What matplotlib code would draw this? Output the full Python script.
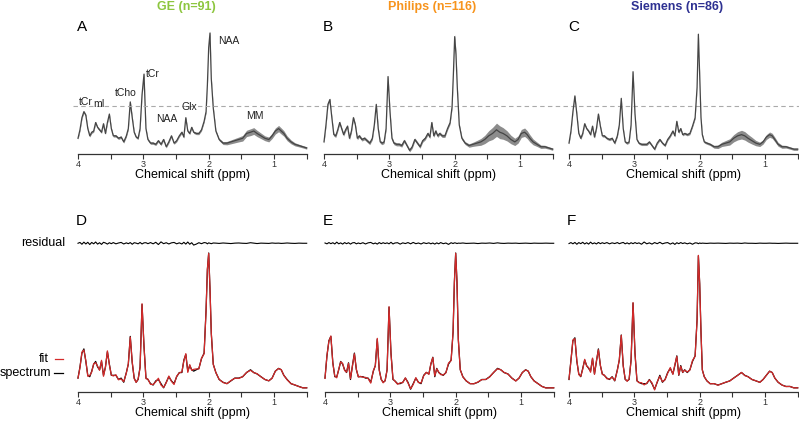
import numpy as np
import matplotlib
matplotlib.use('Agg')
import matplotlib.pyplot as plt
from matplotlib.transforms import blended_transform_factory

plt.rcParams['font.family'] = ['Liberation Sans', 'DejaVu Sans']

# chemical shift grid (ppm) shared by all spectra
ppm = [4.00, 3.97, 3.94, 3.91, 3.88, 3.85, 3.82, 3.79, 3.76, 3.73,
       3.70, 3.67, 3.64, 3.61, 3.58, 3.55, 3.52, 3.49, 3.46, 3.42,
       3.38, 3.34, 3.30, 3.26, 3.23, 3.20, 3.17, 3.14, 3.11, 3.08,
       3.05, 3.02, 2.99, 2.96, 2.93, 2.89, 2.85, 2.81, 2.77, 2.73,
       2.69, 2.65, 2.61, 2.57, 2.53, 2.49, 2.45, 2.41, 2.38, 2.35,
       2.32, 2.29, 2.26, 2.23, 2.19, 2.15, 2.11, 2.07, 2.04, 2.02,
       2.00, 1.98, 1.96, 1.93, 1.89, 1.84, 1.78, 1.72, 1.66, 1.60,
       1.54, 1.48, 1.42, 1.36, 1.31, 1.26, 1.20, 1.14, 1.08, 1.03,
       0.98, 0.93, 0.89, 0.85, 0.80, 0.74, 0.68, 0.62, 0.56, 0.50]

# vendor mean spectra (NAA peak ~ 100)
mean_ge = [13, 20, 30, 35, 32, 21, 15, 18, 19, 26,
           22, 20, 18, 25, 17, 26, 33, 21, 15, 15,
           13, 14, 10, 15, 21, 43, 30, 18, 14, 13,
           21, 49, 66, 21, 12, 9, 9, 8, 11, 8,
           12, 6, 10, 15, 9, 11, 15, 18, 14, 30,
           19, 17, 22, 18, 17, 17, 20, 27, 35, 57,
           88, 100, 62, 38, 19, 12, 9, 9, 10, 11,
           12, 13, 17, 18, 19, 17, 15, 13, 12, 15,
           19, 21, 19, 17, 13, 10, 8, 7, 6, 5]
mean_philips = [10, 24, 41, 45, 30, 16, 15, 20, 26, 21,
                16, 20, 23, 13, 19, 30, 24, 13, 15, 12,
                13, 11, 9, 13, 24, 41, 21, 10, 9, 10,
                21, 64, 35, 13, 9, 8, 8, 7, 11, 7,
                3, 6, 12, 9, 6, 11, 13, 17, 14, 26,
                15, 19, 15, 17, 15, 15, 21, 26, 39, 66,
                97, 82, 55, 24, 13, 9, 7, 8, 9, 10,
                12, 15, 17, 20, 18, 17, 15, 12, 10, 12,
                17, 18, 16, 13, 10, 8, 6, 6, 5, 4]
mean_siemens = [9, 19, 35, 48, 33, 17, 13, 17, 25, 21,
                19, 16, 23, 14, 21, 33, 23, 15, 15, 13,
                12, 13, 9, 15, 24, 46, 21, 10, 9, 10,
                24, 68, 33, 12, 9, 8, 8, 8, 10, 7,
                4, 9, 12, 9, 7, 12, 15, 19, 15, 27,
                18, 21, 16, 17, 16, 17, 23, 30, 55, 99,
                65, 30, 16, 10, 9, 8, 6, 6, 8, 9,
                10, 13, 15, 16, 15, 13, 11, 9, 8, 10,
                14, 16, 15, 12, 8, 6, 6, 5, 4, 4]

# standard deviation bands
sd_ge = [1.0] * 10 + [1.0] * 10 + \
        [1.0, 1.0, 1.0, 1.0, 1.0, 1.4, 1.2, 1.0, 1.0, 1.0,
         1.0, 1.4, 1.5, 1.0, 1.0, 1.0, 1.0, 1.0, 1.0, 1.0] + [1.0] * 10 + \
        [1.0, 1.0, 1.0, 1.0, 1.0, 1.0, 1.0, 1.0, 1.2, 1.5,
         1.6, 1.6, 1.5, 1.2, 1.0, 1.0, 1.2, 1.4, 1.6, 1.8,
         2.0, 2.3, 2.6, 2.8, 2.8, 2.6, 2.3, 2.0, 2.0, 2.2,
         2.5, 2.6, 2.5, 2.3, 2.0, 1.6, 1.3, 1.1, 1.0, 1.0]
sd_philips = [1.3] * 60 + \
             [2.0, 1.8, 1.6, 1.3, 1.2, 1.2, 1.4, 1.7, 2.2, 2.8,
              3.4, 4.2, 5.0, 5.5, 5.3, 4.8, 4.2, 3.5, 3.0, 3.0,
              3.3, 3.5, 3.3, 3.0, 2.4, 1.8, 1.4, 1.2, 1.0, 1.0]
sd_siemens = [1.0] * 60 + \
             [1.5, 1.2, 1.0, 1.0, 1.0, 1.0, 1.2, 1.5, 1.8, 2.2,
              2.6, 3.0, 3.4, 3.6, 3.5, 3.2, 2.8, 2.2, 1.8, 1.8,
              2.0, 2.2, 2.1, 1.9, 1.6, 1.3, 1.1, 1.0, 1.0, 1.0]

# single-subject spectra for the fit examples
spec_ge = [10, 18, 28, 31, 22, 12, 11, 15, 20, 22,
           18, 16, 22, 12, 18, 29, 20, 12, 12, 12,
           9, 10, 7, 14, 20, 40, 21, 10, 7, 9,
           18, 63, 33, 10, 9, 6, 5, 8, 9, 6,
           3, 7, 11, 8, 6, 11, 14, 14, 23, 27,
           15, 19, 16, 15, 16, 17, 24, 28, 59, 88,
           100, 74, 42, 20, 14, 9, 7, 6, 8, 10,
           10, 11, 14, 16, 14, 13, 11, 9, 8, 10,
           15, 17, 16, 12, 9, 6, 5, 4, 3, 3]
spec_philips = [10, 26, 37, 40, 21, 11, 11, 16, 22, 20,
                16, 14, 21, 9, 19, 28, 16, 11, 11, 11,
                10, 10, 7, 15, 19, 38, 16, 9, 7, 8,
                16, 61, 28, 9, 8, 6, 6, 7, 10, 7,
                2, 6, 10, 7, 6, 12, 14, 13, 20, 25,
                11, 17, 14, 13, 12, 14, 20, 23, 43, 79,
                100, 79, 38, 16, 11, 8, 6, 6, 7, 9,
                9, 11, 14, 17, 16, 14, 13, 10, 8, 10,
                14, 16, 15, 11, 8, 6, 4, 3, 3, 3]
spec_siemens = [9, 23, 37, 39, 22, 13, 11, 17, 23, 19,
                17, 15, 24, 13, 22, 31, 19, 13, 12, 10,
                9, 11, 8, 16, 23, 41, 19, 9, 8, 9,
                23, 64, 28, 8, 7, 6, 6, 6, 9, 6,
                2, 7, 12, 7, 9, 14, 17, 13, 19, 26,
                12, 19, 14, 16, 14, 16, 22, 26, 52, 98,
                78, 43, 16, 11, 8, 6, 6, 5, 6, 7,
                8, 10, 12, 14, 12, 11, 9, 8, 7, 9,
                12, 15, 14, 10, 7, 5, 4, 4, 3, 3]

# residual = spectrum - fit
res_ge = [0.0, 0.6, -0.7, 0.8, -0.5, 0.7, -0.9, 0.6, -0.4, 0.9,
          -0.6, 0.4, -0.8, 0.7, 0.2, -0.6, 0.4, -0.3, 0.5, -0.4,
          0.2, 0.6, -0.5, 0.3, -0.3, 0.5, -0.7, 0.4, 0.1, -0.4,
          0.6, -0.5, 0.3, 0.4, -0.3, 0.5, -0.4, 0.7, -0.9, 1.0,
          -0.3, 0.4, -0.5, 0.3, 0.6, -0.4, 0.3, -0.5, 0.7, -0.6,
          0.9, -0.7, 0.4, -1.3, -0.6, 0.4, -0.3, 0.5, 0.3, -0.4,
          0.3, 0.0, -0.3, 0.2, 0.1, -0.1, 0.2, 0.0, -0.2, 0.1,
          0.2, 0.0, -0.1, 0.4, 0.1, -0.2, 0.1, 0.0, -0.1, 0.2,
          0.0, 0.1, -0.1, 0.0, 0.2, 0.0, -0.1, 0.1, 0.0, 0.0]
res_philips = [0.2, -0.4, 0.5, -0.3, 0.4, -0.5, 0.8, -0.4, 0.3, -0.6,
               0.5, -0.3, 0.4, -0.6, 0.3, 0.5, -0.4, 0.2, -0.3, 0.4,
               -0.5, 0.3, 0.6, -0.4, 0.2, -0.6, 0.5, -0.3, 0.4, -0.2,
               0.3, -0.4, 0.7, -0.5, 0.2, 0.4, -0.6, 0.3, -0.2, 0.5,
               -0.4, 0.6, -0.3, 0.2, -0.5, 0.4, -0.2, 0.3, -0.4, 0.2,
               -0.6, 0.3, -0.4, 0.5, -0.3, 0.2, -0.8, 0.4, -0.2, 0.3,
               0.2, -0.2, 0.1, 0.0, 0.2, -0.1, 0.0, 0.1, -0.2, 0.1,
               0.0, 0.2, -0.1, 0.3, 0.0, -0.1, 0.1, 0.0, 0.1, -0.1,
               0.0, 0.1, 0.0, -0.1, 0.1, 0.0, 0.0, 0.1, 0.0, 0.0]
res_siemens = [-0.2, 0.5, -0.4, 0.6, -0.7, 0.5, -0.3, 0.7, -0.5, 0.4,
               -0.6, 0.8, -0.4, 0.3, -0.5, 0.6, -0.3, 0.4, -0.2, 0.5,
               -0.4, 0.3, -0.2, 0.5, -0.3, 0.2, 0.6, -0.4, 0.3, -0.5,
               0.4, -0.3, 0.5, -0.2, 0.3, -0.7, 0.9, -0.4, 0.3, -0.6,
               0.5, -0.3, 0.7, -0.4, 0.2, 0.5, -0.6, 0.3, -0.8, 0.4,
               -0.3, 0.5, -0.2, 0.3, -0.4, 0.2, -0.7, 0.3, 0.2, -0.3,
               0.2, -0.1, 0.1, 0.0, -0.1, 0.1, 0.0, 0.1, 0.0, -0.1,
               0.1, 0.0, 0.1, -0.1, 0.2, 0.0, 0.0, -0.1, 0.1, 0.0,
               0.0, 0.1, 0.0, 0.0, -0.1, 0.0, 0.1, 0.0, 0.0, 0.0]

vendors = ['GE (n=91)', 'Philips (n=116)', 'Siemens (n=86)']
vendor_colors = ['#8dc63f', '#f7941d', '#2e3192']
top_letters = ['A', 'B', 'C']
bottom_letters = ['D', 'E', 'F']
means = [mean_ge, mean_philips, mean_siemens]
sds = [sd_ge, sd_philips, sd_siemens]
spectra = [spec_ge, spec_philips, spec_siemens]
residuals = [res_ge, res_philips, res_siemens]

# metabolite labels on panel A (ppm, height)
peak_labels = [('tCr', 3.88, 43), ('mI', 3.68, 41), ('tCho', 3.27, 50),
               ('tCr', 2.85, 66), ('NAA', 2.64, 29), ('Glx', 2.29, 39),
               ('NAA', 1.69, 93), ('MM', 1.29, 31)]
ref_level = 40
residual_offset = 107

W, H = 799, 421
fig = plt.figure(figsize=(W / 100, H / 100), dpi=100)

ticks = [4.0, 3.5, 3.0, 2.5, 2.0, 1.5, 1.0, 0.5]
tick_labels = ['4', '', '3', '', '2', '', '1', '']


def add_px_axes(left, bottom_y, width, height):
    return fig.add_axes([left / W, (H - bottom_y) / H, width / W, height / H])


def style_axis(ax, ytop):
    ax.set_xlim(4, 0.5)
    ax.set_ylim(0, ytop)
    for s in ['left', 'right', 'top']:
        ax.spines[s].set_visible(False)
    ax.spines['bottom'].set_color('#333333')
    ax.spines['bottom'].set_linewidth(0.9)
    ax.set_yticks([])
    ax.set_xticks(ticks)
    ax.set_xticklabels(tick_labels)
    ax.tick_params(axis='x', direction='out', length=3.5, width=0.8, pad=0.8,
                   labelsize=6.5, colors='#333333')
    ax.set_xlabel('Chemical shift (ppm)', fontsize=9, labelpad=0)
    ax.patch.set_visible(False)


x = np.array(ppm)
lefts = [78, 324, 569]
panel_w = 228.7

# top row: vendor means with SD band
top_axes = []
for i in range(3):
    ax = add_px_axes(lefts[i], 154, panel_w, 110 * 1.21)
    style_axis(ax, 110)
    m = np.array(means[i], dtype=float)
    sd = np.array(sds[i])
    ax.fill_between(x, m - sd, m + sd, color='#8c8c8c', lw=0, clip_on=False)
    ax.plot(x, m, color='#454545', lw=0.9, clip_on=False)
    fig.text((lefts[i] - 1) / W, 1 - 27 / H, top_letters[i], fontsize=11,
             ha='left', va='center')
    fig.text((lefts[i] + panel_w / 2 - 6) / W, 1 - 7 / H, vendors[i],
             fontsize=9, fontweight='bold', color=vendor_colors[i],
             ha='center', va='center')
    top_axes.append(ax)

for name, px, py in peak_labels:
    top_axes[0].text(px, py, name, fontsize=7.5, ha='center', va='center',
                     color='#222222')

# dashed reference line across the top row
tr = blended_transform_factory(fig.transFigure, top_axes[0].transData)
top_axes[0].plot([73 / W, 1.0], [ref_level, ref_level], transform=tr,
                 color='#aaaaaa', lw=0.8, ls=(0, (4, 3)), clip_on=False)

# bottom row: spectrum, fit and residual
blefts = [78, 325, 569]
for i in range(3):
    ax = add_px_axes(blefts[i], 392, panel_w, 112 * 1.39)
    style_axis(ax, 112)
    s = np.array(spectra[i], dtype=float)
    r = np.array(residuals[i])
    fit = s - r
    ax.plot(x, s, color='black', lw=0.9, clip_on=False)
    ax.plot(x, fit, color='#d42a2a', lw=0.9, clip_on=False)
    ax.plot(x, r + residual_offset, color='black', lw=0.8, clip_on=False)
    fig.text((blefts[i] - 2) / W, 1 - 221 / H, bottom_letters[i], fontsize=11,
             ha='left', va='center')
    if i == 0:
        bt = blended_transform_factory(ax.transAxes, ax.transData)
        ax.text(-0.057, residual_offset, 'residual', transform=bt, fontsize=9,
                ha='right', va='center')
        ax.text(-0.128, 24, 'fit', transform=bt, fontsize=9, ha='right',
                va='center')
        ax.plot([-0.100, -0.066], [24, 24], transform=bt, color='#d42a2a',
                lw=0.9, clip_on=False)
        ax.text(-0.118, 14, 'spectrum', transform=bt, fontsize=9, ha='right',
                va='center')
        ax.plot([-0.105, -0.066], [14, 14], transform=bt, color='black',
                lw=0.9, clip_on=False)

fig.savefig('out.png', dpi=100)
